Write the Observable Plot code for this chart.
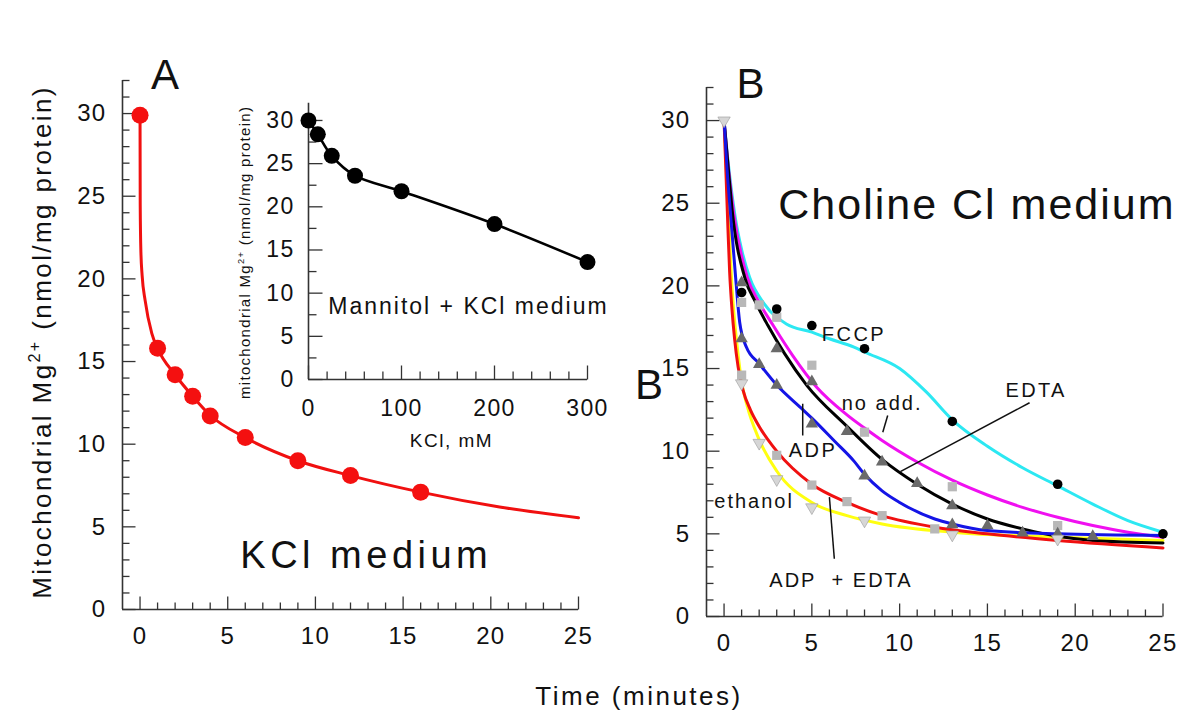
<!DOCTYPE html>
<html><head><meta charset="utf-8">
<script src="https://cdn.jsdelivr.net/npm/d3@7"></script>
<script src="https://cdn.jsdelivr.net/npm/@observablehq/plot@0.6"></script>
<style>
body{margin:0;background:#fff;}
#root{position:relative;width:1200px;height:716px;overflow:hidden;background:#fff;font-family:"Liberation Sans",Arial,sans-serif;}
.panel{position:absolute;}
#xlabel{position:absolute;left:339px;top:683px;width:600px;text-align:center;font-size:26px;line-height:26px;letter-spacing:2.5px;color:#111;}
</style></head><body>
<div id="root">
  <div id="panelA" class="panel" style="left:0;top:0"></div>
  <div id="panelB" class="panel" style="left:600px;top:0"></div>
  <div id="inset" class="panel" style="left:200px;top:60px"></div>
  <div id="xlabel">Time (minutes)</div>
</div>
<script>
// ---------- Panel A: KCl medium ----------
const timeA = [0, 1, 2, 3, 4, 6, 9, 12, 16];
const mgA   = [29.9, 15.8, 14.2, 12.9, 11.7, 10.4, 9.0, 8.1, 7.1];
const curveA = [[0,29.9],[0.01,24.5],[0.05,21.6],[0.12,20.2],[0.29,18.7],[0.67,16.7],[1,15.8],[2,14.2],[3,12.9],[4,11.75],[6,10.4],[9,9.0],[12,8.1],[16,7.1],[20.5,6.2],[25,5.55]];

// ---------- Inset: Mannitol + KCl medium ----------
const kclInset = [0, 10, 25, 50, 100, 200, 300];
const mgInset  = [30.0, 28.4, 25.9, 23.6, 21.8, 18.0, 13.6];

// ---------- Panel B: Choline Cl medium (measured points) ----------
const ptsFCCP    = [[1,19.6],[3,18.6],[5,17.6],[8,16.2],[13,11.8],[19,8.0],[25,5.0]];
const ptsEDTA    = [[1,20.2],[3,16.2],[5,14.2],[7,11.2],[9,9.35],[11,8.05],[13,6.7],[15,5.5],[17,5.05],[21,4.85]];
const ptsADP     = [[1,16.8],[2,15.25],[3,14.0],[5,11.65],[8,8.5],[13,5.55],[19,5.0]];
const ptsNoAdd   = [[1,19.0],[2,18.85],[3,18.1],[5,15.2],[8,11.15],[13,7.85],[19,5.5]];
const ptsADPEDTA = [[1,14.6],[3,9.75],[5,7.95],[7,6.95],[9,6.1],[12,5.3]];
const ptsEthanol = [[0,30],[1,14.1],[2,10.5],[3,8.3],[5,6.6],[8,5.8],[13,4.95],[19,4.7]];

// ---------- Panel B: fitted curves ----------
const curveFCCP = [[0,30],[0.2,27.8],[0.42,25.8],[0.66,24.0],[1.0,22.2],[1.46,20.5],[2.3,18.9],[3.55,17.7],[5,17.2],[6,16.8],[7.4,16.3],[8,16.0],[10,15.0],[11.5,13.6],[13,11.9],[15,10.3],[17,9.0],[19,7.9],[21,6.8],[23,5.8],[25,5.1]];
const curveNoAdd = [[0,30],[0.3,26.6],[0.55,24.4],[1.3,20.6],[2.0,19.0],[2.8,17.6],[3.9,15.8],[5.25,13.9],[7,12.2],[8,11.4],[9,10.65],[11,9.35],[13,8.25],[15,7.35],[17,6.6],[19,6.0],[21,5.5],[23,5.1],[25,4.8]];
const curveEDTA = [[0,30],[0.3,26.4],[0.46,24.6],[1.18,20.5],[1.8,19.0],[2.5,17.6],[3.45,15.9],[4.7,14.0],[7,11.5],[9,9.5],[11,8.0],[13,6.8],[15,5.9],[17,5.3],[19,4.85],[21,4.6],[25,4.45]];
const curveADP = [[0,30],[0.2,26.6],[0.35,24.6],[0.66,20.5],[0.89,17.8],[1.27,16.3],[2,15.3],[3,14.0],[4.4,12.6],[5,12.0],[6.3,10.6],[7.4,9.4],[8,8.6],[9,7.6],[10,6.9],[12,5.9],[13,5.6],[15,5.2],[19,5.0],[25,4.9]];
const curveADPEDTA = [[0,30],[0.12,26.5],[0.22,23.5],[0.32,20.8],[0.45,18.6],[0.6,16.8],[0.8,15.1],[1.08,13.7],[1.5,12.5],[2,11.5],[3,10.0],[5,8.0],[7,6.9],[9,6.1],[12,5.4],[15,5.0],[19,4.6],[25,4.15]];
const curveEthanol = [[0,30],[0.15,26.6],[0.27,24.0],[0.42,20.5],[0.55,18.5],[0.7,16.8],[0.85,15.4],[1.0,14.2],[1.3,12.8],[2.0,10.7],[3,8.8],[5,6.9],[7,6.1],[9,5.6],[13,5.1],[19,4.8],[25,4.6]];

// ---------- annotations ----------
const labelsB = [
  {label: "FCCP", t: 7.4, v: 17.06},
  {label: "EDTA", t: 17.77, v: 13.67},
  {label: "no add.", t: 9.0, v: 12.86},
  {label: "ADP", t: 5.07, v: 10.04},
  {label: "ethanol", t: 1.71, v: 6.96},
  {label: "ADP\u00a0\u00a0+ EDTA", t: 6.66, v: 2.18}
];
const leadersB = [
  {t1: 17.4, v1: 12.93, t2: 10.04, v2: 8.76},
  {t1: 9.32, v1: 12.16, t2: 9.04, v2: 11.15},
  {t1: 4.48, v1: 12.87, t2: 4.48, v2: 10.95},
  {t1: 6.0, v1: 7.22, t2: 6.28, v2: 3.49}
];
const bigLabelsB = [
  {label: "B", t: 1.5, v: 32.2, size: 42},
  {label: "B", t: -4.27, v: 13.97, size: 42},
  {label: "Choline Cl medium", t: 14.4, v: 24.9, size: 43}
];
const bigLabelsA = [
  {label: "A", t: 1.43, v: 32.3},
  {label: "KCl medium", t: 12.9, v: 3.27}
];
const insetNote = [{label: "Mannitol + KCl medium", k: 172, v: 8.46}];
const yLabelMain = "Mitochondrial Mg2+ (nmol/mg protein)";
const yLabelInset = "mitochondrial Mg2+ (nmol/mg protein)";

// ---------- ticks ----------
const timeDomain = [-1, 25];
const mgDomain = [0, 32];
const timeMajor = [0, 5, 10, 15, 20, 25];
const timeMinor = d3.range(1, 25).filter(d => d % 5 !== 0);
const mgMajor = [0, 5, 10, 15, 20, 25, 30];
const mgMinor = d3.range(1, 33).filter(d => d % 5 !== 0);
const kclMajor = [0, 100, 200, 300];
const kclMinor = d3.range(20, 300, 20).filter(d => d % 100 !== 0);
const insetMajor = [0, 5, 10, 15, 20, 25, 30];
const insetMinor = [2.5, 7.5, 12.5, 17.5, 22.5, 27.5];

// ---------- helpers ----------
const AX = "#333";
const FONT = "Liberation Sans, Arial, sans-serif";
const tickRight = len => ({draw(ctx) { ctx.moveTo(0, 0); ctx.lineTo(len, 0); }});
const tickUp = len => ({draw(ctx) { ctx.moveTo(0, 0); ctx.lineTo(0, -len); }});
const invTriangle = {draw(ctx, size) {
  const s3 = Math.sqrt(3);
  const y = -Math.sqrt(size / (s3 * 3));
  ctx.moveTo(0, -y * 2);
  ctx.lineTo(-s3 * y, y);
  ctx.lineTo(s3 * y, y);
  ctx.closePath();
}};
const pair = arr => arr.map(([t, v]) => ({t, v}));

function axesMarks(xd, xMaj, xMin, yMaj, yMin, o) {
  return [
    Plot.ruleX([xd[0]], {stroke: AX, strokeWidth: 1.6}),
    Plot.ruleY([0], {stroke: AX, strokeWidth: 1.6}),
    Plot.dot(yMaj, {y: d => d, frameAnchor: "left", symbol: tickRight(o.maj), fill: "none", stroke: AX, strokeWidth: 1.3}),
    Plot.dot(yMin, {y: d => d, frameAnchor: "left", symbol: tickRight(o.min), fill: "none", stroke: AX, strokeWidth: 1.3}),
    Plot.dot(xMaj, {x: d => d, frameAnchor: "bottom", symbol: tickUp(o.maj), fill: "none", stroke: AX, strokeWidth: 1.3}),
    Plot.dot(xMin, {x: d => d, frameAnchor: "bottom", symbol: tickUp(o.min), fill: "none", stroke: AX, strokeWidth: 1.3}),
    Plot.axisY({ticks: yMaj, tickSize: 0, tickPadding: o.yPad, fontSize: o.fs, label: null, tickFormat: d => String(d)}),
    Plot.axisX({ticks: xMaj, tickSize: 0, tickPadding: o.xPad, fontSize: o.fs, label: null, tickFormat: d => String(d)})
  ];
}

const baseStyle = {fontFamily: FONT, background: "transparent", overflow: "visible", color: "#111"};

// ---------- Panel A ----------
const plotA = Plot.plot({
  width: 600, height: 716,
  marginLeft: 122, marginRight: 22, marginTop: 80, marginBottom: 107,
  x: {domain: timeDomain}, y: {domain: mgDomain},
  style: baseStyle,
  marks: [
    ...axesMarks(timeDomain, timeMajor, timeMinor, mgMajor, mgMinor, {maj: 13, min: 7, fs: 24, yPad: 16, xPad: 17}),
    Plot.line(pair(curveA), {x: "t", y: "v", stroke: "#f01010", strokeWidth: 3, curve: "monotone-x"}),
    Plot.dot(timeA.map((t, i) => ({t, v: mgA[i]})), {x: "t", y: "v", r: 8.5, fill: "#f41010", stroke: "none"}),
    Plot.text(bigLabelsA.slice(0, 1), {x: "t", y: "v", text: "label", fontSize: 42, fill: "#111"}),
    Plot.text(bigLabelsA.slice(1), {x: "t", y: "v", text: "label", fontSize: 38, fill: "#111"}),
    Plot.text([yLabelMain], {text: d => d, frameAnchor: "left", textAnchor: "middle", lineAnchor: "middle", rotate: -90, dx: -80, dy: -3, fontSize: 26, fill: "#111"})
  ]
});
document.getElementById("panelA").append(plotA);

// ---------- Inset ----------
const plotI = Plot.plot({
  width: 420, height: 400,
  marginLeft: 108, marginRight: 33, marginTop: 42.7, marginBottom: 81,
  x: {domain: [0, 300]}, y: {domain: mgDomain},
  style: baseStyle,
  marks: [
    ...axesMarks([0, 300], kclMajor, kclMinor, insetMajor, insetMinor, {maj: 14, min: 8, fs: 23, yPad: 14, xPad: 20}),
    Plot.line(kclInset.map((k, i) => ({k, v: mgInset[i]})), {x: "k", y: "v", stroke: "#000", strokeWidth: 2.6, curve: "catmull-rom"}),
    Plot.dot(kclInset.map((k, i) => ({k, v: mgInset[i]})), {x: "k", y: "v", r: 8, fill: "#000", stroke: "none"}),
    Plot.text(insetNote, {x: "k", y: "v", text: "label", fontSize: 23, fill: "#111"}),
    Plot.text(["KCl, mM"], {text: d => d, frameAnchor: "bottom", textAnchor: "middle", lineAnchor: "middle", dy: 61, dx: 3.5, fontSize: 19, fill: "#111"}),
    Plot.text([yLabelInset], {text: d => d, frameAnchor: "left", textAnchor: "middle", lineAnchor: "middle", rotate: -90, dx: -63, dy: 11, fontSize: 15, fill: "#111"})
  ]
});
document.getElementById("inset").append(plotI);

// ---------- Panel B ----------
const plotB = Plot.plot({
  width: 600, height: 716,
  marginLeft: 106, marginRight: 37.5, marginTop: 87, marginBottom: 100,
  x: {domain: timeDomain}, y: {domain: mgDomain},
  style: baseStyle,
  marks: [
    ...axesMarks(timeDomain, timeMajor, timeMinor, mgMajor, mgMinor, {maj: 13, min: 7, fs: 24, yPad: 16, xPad: 17}),
    Plot.line(pair(curveFCCP), {x: "t", y: "v", stroke: "#2ce8f2", strokeWidth: 3, curve: "monotone-x"}),
    Plot.line(pair(curveNoAdd), {x: "t", y: "v", stroke: "#f010f0", strokeWidth: 3, curve: "monotone-x"}),
    Plot.line(pair(curveEthanol), {x: "t", y: "v", stroke: "#ffff10", strokeWidth: 3, curve: "monotone-x"}),
    Plot.line(pair(curveEDTA), {x: "t", y: "v", stroke: "#000", strokeWidth: 3, curve: "monotone-x"}),
    Plot.line(pair(curveADPEDTA), {x: "t", y: "v", stroke: "#f01010", strokeWidth: 3, curve: "monotone-x"}),
    Plot.line(pair(curveADP), {x: "t", y: "v", stroke: "#1414e6", strokeWidth: 3, curve: "monotone-x"}),
    Plot.link(leadersB, {x1: "t1", y1: "v1", x2: "t2", y2: "v2", stroke: "#111", strokeWidth: 1.5}),
    Plot.dot(pair(ptsNoAdd), {x: "t", y: "v", symbol: "square", r: 5.2, fill: "#b8b8b8", stroke: "none"}),
    Plot.dot(pair(ptsADPEDTA), {x: "t", y: "v", symbol: "square", r: 5.2, fill: "#b8b8b8", stroke: "none"}),
    Plot.dot(pair(ptsEDTA), {x: "t", y: "v", symbol: "triangle", r: 4.6, fill: "#6a6a6a", stroke: "none"}),
    Plot.dot(pair(ptsADP), {x: "t", y: "v", symbol: "triangle", r: 4.6, fill: "#6a6a6a", stroke: "none"}),
    Plot.dot(pair(ptsFCCP), {x: "t", y: "v", r: 4.8, fill: "#000", stroke: "none"}),
    Plot.dot(pair(ptsEthanol), {x: "t", y: "v", symbol: invTriangle, r: 4.6, fill: "#d6d6d6", stroke: "#999", strokeWidth: 0.6}),
    Plot.text(labelsB, {x: "t", y: "v", text: "label", fontSize: 20, fill: "#111"}),
    Plot.text(bigLabelsB, {x: "t", y: "v", text: "label", fontSize: d => d.size, fill: "#111"})
  ]
});
document.getElementById("panelB").append(plotB);

// ---------- text finishing: letter spacing & superscripts ----------
const spacing = new Map([
  ["Choline Cl medium", 2], ["KCl medium", 4.5], ["Mannitol + KCl medium", 2], ["KCl, mM", 1.5],
  ["FCCP", 2.5], ["EDTA", 2.3], ["no add.", 2], ["ADP", 2.5], ["ethanol", 2], ["ADP\u00a0\u00a0+ EDTA", 2],
  [yLabelMain, 2.4], [yLabelInset, 1.3]
]);
d3.selectAll("#root svg text").each(function() {
  const txt = this.textContent;
  if (spacing.has(txt)) this.style.letterSpacing = spacing.get(txt) + "px";
  else if (/^\d+$/.test(txt)) this.style.letterSpacing = "1.3px";
  if (txt.includes("Mg2+")) {
    const fs = parseFloat(getComputedStyle(this).fontSize);
    const [a, b] = txt.split("Mg2+");
    const s = d3.select(this);
    s.text(null);
    s.append("tspan").text(a + "Mg");
    s.append("tspan").attr("dy", -0.42 * fs).attr("font-size", 0.62 * fs).text("2+");
    s.append("tspan").attr("dy", 0.42 * fs).text(b);
  }
});
</script>
</body></html>
